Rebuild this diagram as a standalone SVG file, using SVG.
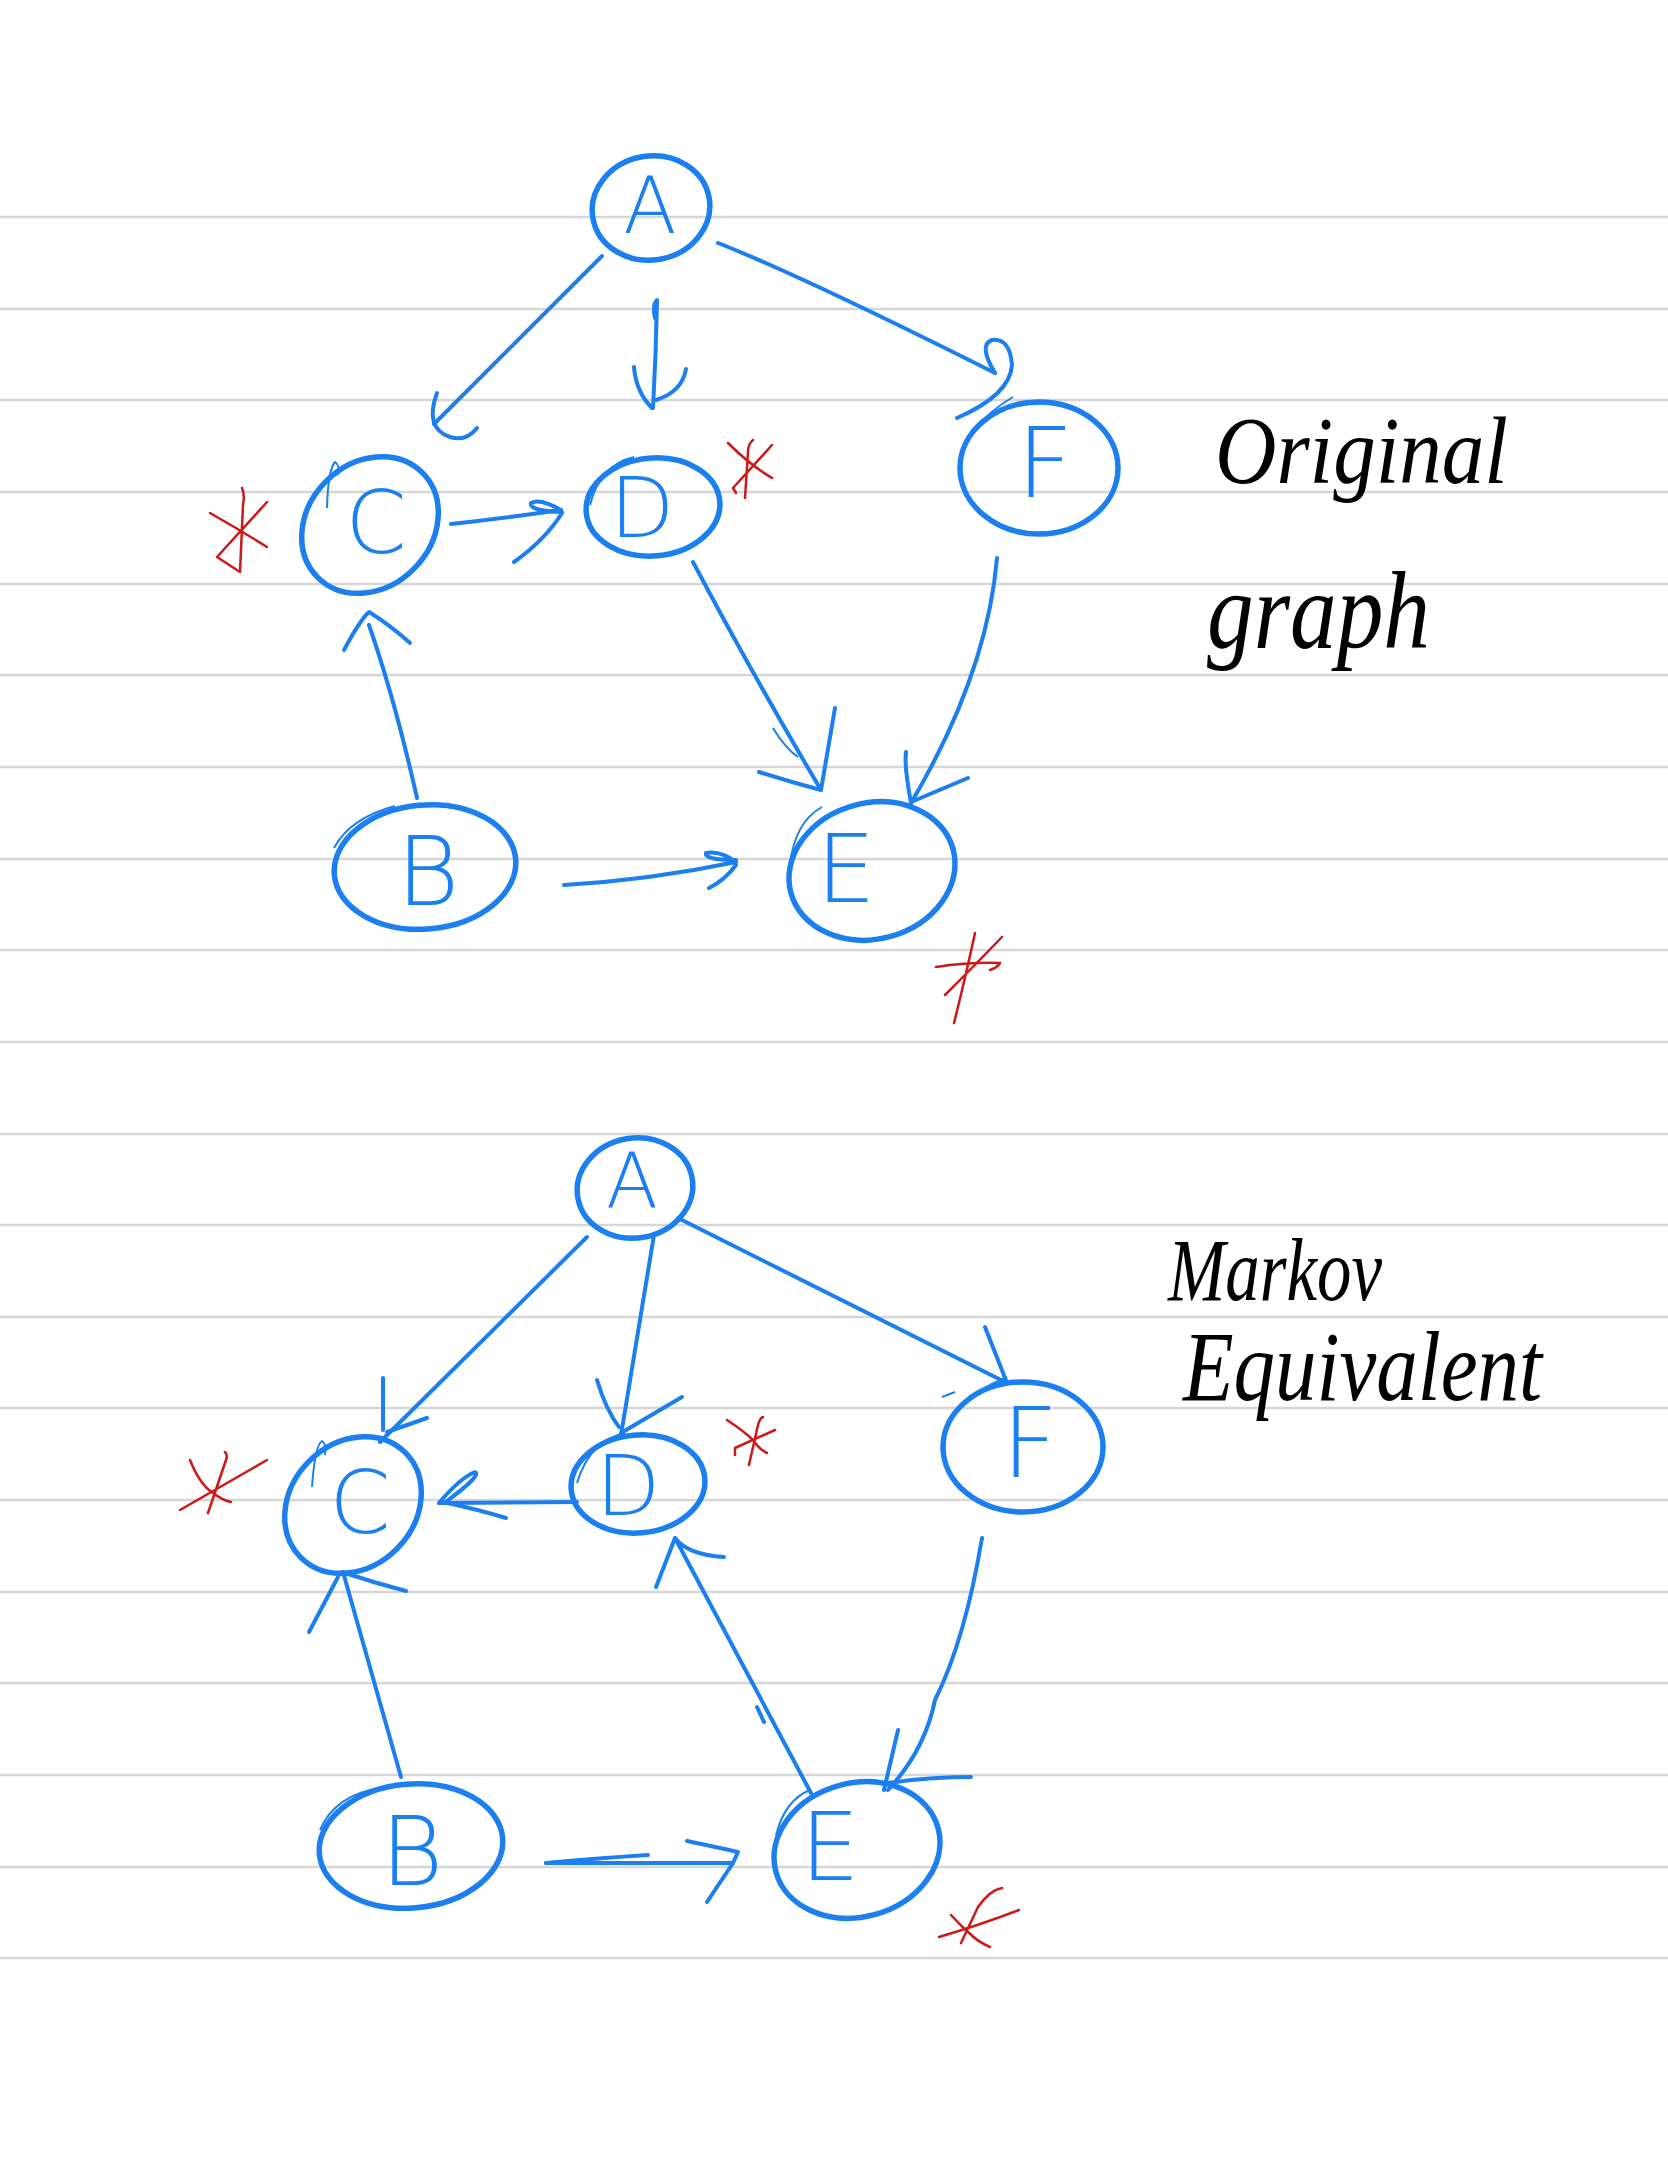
<svg xmlns="http://www.w3.org/2000/svg" width="1668" height="2157" viewBox="0 0 1668 2157">
<style>
.rule{stroke:#d6d6d6;stroke-width:2.5}
.node{fill:none;stroke:#1b7ff0;stroke-width:5.5}
.thin{fill:none;stroke:#1b7ff0;stroke-width:2}
.edge{fill:none;stroke:#1b7ff0;stroke-width:4;stroke-linecap:round;stroke-linejoin:round}
.lbl{font-family:"DejaVu Sans","Liberation Sans",Arial,sans-serif;font-weight:200;fill:#1b7ff0;text-anchor:middle}
.mark{fill:none;stroke:#cc1818;stroke-width:2.5;stroke-linecap:round;stroke-linejoin:round}
.note{font-family:"Liberation Serif","Times New Roman",serif;font-style:italic;fill:#000}
</style>
<rect width="1668" height="2157" fill="#ffffff"/>
<g id="ruled-lines">
<line class="rule" x1="0" y1="217" x2="1668" y2="217"/>
<line class="rule" x1="0" y1="309" x2="1668" y2="309"/>
<line class="rule" x1="0" y1="400" x2="1668" y2="400"/>
<line class="rule" x1="0" y1="492" x2="1668" y2="492"/>
<line class="rule" x1="0" y1="584" x2="1668" y2="584"/>
<line class="rule" x1="0" y1="675" x2="1668" y2="675"/>
<line class="rule" x1="0" y1="767" x2="1668" y2="767"/>
<line class="rule" x1="0" y1="859" x2="1668" y2="859"/>
<line class="rule" x1="0" y1="950" x2="1668" y2="950"/>
<line class="rule" x1="0" y1="1042" x2="1668" y2="1042"/>
<line class="rule" x1="0" y1="1134" x2="1668" y2="1134"/>
<line class="rule" x1="0" y1="1225" x2="1668" y2="1225"/>
<line class="rule" x1="0" y1="1317" x2="1668" y2="1317"/>
<line class="rule" x1="0" y1="1408" x2="1668" y2="1408"/>
<line class="rule" x1="0" y1="1500" x2="1668" y2="1500"/>
<line class="rule" x1="0" y1="1592" x2="1668" y2="1592"/>
<line class="rule" x1="0" y1="1683" x2="1668" y2="1683"/>
<line class="rule" x1="0" y1="1775" x2="1668" y2="1775"/>
<line class="rule" x1="0" y1="1867" x2="1668" y2="1867"/>
<line class="rule" x1="0" y1="1958" x2="1668" y2="1958"/>
</g>

<!-- Top graph: Original graph -->
<g id="top-connectors">
<path class="edge" d="M602,256 Q520,338 434,424"/>
<path class="edge" d="M437,393 Q424,428 450,437 Q466,442 477,428"/>
<path class="edge" d="M655,318 Q652,305 657,300 Q656,355 653,408"/>
<path class="edge" d="M634,367 Q636,392 652,408 M686,369 Q682,392 656,400"/>
<path class="edge" d="M451,524 Q505,518 561,510"/>
<path class="edge" d="M561,510 Q540,498 531,503 Q529,511 562,512 M562,513 Q545,540 514,562"/>
<path class="edge" d="M718,243 Q800,275 995,373"/>
<path class="edge" d="M995,373 Q978,345 992,340 Q1010,338 1012,365 Q1010,395 957,418"/>
<path class="thin" d="M970,434 Q990,410 1013,397"/>
<path class="edge" d="M693,562 Q750,670 821,790"/>
<path class="edge" d="M835,708 L821,790 M759,772 Q790,782 821,790"/>
<path class="thin" d="M773,728 Q785,748 798,757"/>
<path class="edge" d="M997,558 C990,640 960,720 911,803"/>
<path class="edge" d="M968,778 L911,802 M906,752 Q904,765 911,803"/>
<path class="edge" d="M417,798 Q395,700 369,625"/>
<path class="edge" d="M344,650 Q360,620 369,612 Q390,625 410,643"/>
<path class="edge" d="M564,885 Q650,880 736,862"/>
<path class="edge" d="M736,862 Q720,850 706,853 Q704,860 736,860 M736,865 Q725,880 709,888"/>
</g>
<g id="top-A">
<ellipse class="node" cx="651" cy="208" rx="59" ry="52" transform="rotate(-10 651 208)"/>
<text class="lbl" x="650" y="233" font-size="78">A</text>
</g>
<g id="top-C">
<ellipse class="node" cx="370" cy="525" rx="74" ry="62" transform="rotate(-45 370 525)"/>
<path class="thin" d="M327,508 Q328,470 335,462 Q340,465 338,475"/>
<text class="lbl" x="376" y="553" font-size="88">C</text>
</g>
<g id="top-D">
<ellipse class="node" cx="653" cy="507" rx="67" ry="49" transform="rotate(-5 653 507)"/>
<path class="thin" d="M590,505 Q600,465 634,457"/>
<text class="lbl" x="642" y="537" font-size="84">D</text>
</g>
<g id="top-F">
<ellipse class="node" cx="1039" cy="468" rx="79" ry="66"/>
<text class="lbl" x="1045" y="497" font-size="98">F</text>
</g>
<g id="top-B">
<ellipse class="node" cx="425" cy="867" rx="91" ry="62" transform="rotate(-5 425 867)"/>
<path class="thin" d="M334,848 Q350,818 395,806"/>
<text class="lbl" x="428" y="905" font-size="96">B</text>
</g>
<g id="top-E">
<ellipse class="node" cx="872" cy="871" rx="84" ry="68" transform="rotate(-15 872 871)"/>
<path class="thin" d="M790,864 Q795,822 822,807"/>
<text class="lbl" x="846" y="902" font-size="94">E</text>
</g>
<g id="top-marks">
<path class="mark" d="M210,513 Q240,530 267,547 M267,502 L217,557 L240,572 M242,488 Q245,495 243,505 L240,572"/>
<path class="mark" d="M728,443 Q750,465 772,478 M772,445 L733,488 L736,493 M753,440 Q748,444 748,452 L745,498"/>
<path class="mark" d="M936,967 Q970,962 1000,963 Q997,968 990,970 M1002,937 Q975,965 945,995 M975,933 Q966,975 954,1023"/>
</g>
<g id="label-original">
<text class="note" x="1215" y="483" font-size="95" textLength="293" lengthAdjust="spacingAndGlyphs">Original</text>
<text class="note" x="1207" y="648" font-size="110" textLength="223" lengthAdjust="spacingAndGlyphs">graph</text>
</g>

<!-- Bottom graph: Markov Equivalent -->
<g id="bottom-connectors">
<path class="edge" d="M587,1237 L380,1442"/>
<path class="edge" d="M383,1378 L383,1430 M427,1418 L387,1432"/>
<path class="edge" d="M654,1235 L621,1435"/>
<path class="edge" d="M597,1380 Q606,1410 619,1427 M682,1397 L621,1433"/>
<path class="edge" d="M577,1502 L439,1503"/>
<path class="edge" d="M439,1503 Q460,1478 475,1472 Q482,1475 447,1501 M443,1502 Q480,1510 506,1518"/>
<path class="edge" d="M678,1218 L1007,1383"/>
<path class="edge" d="M985,1327 L1007,1383"/>
<path class="thin" d="M953,1413 Q975,1390 1007,1377 M942,1397 L955,1392"/>
<path class="edge" d="M982,1538 Q965,1640 935,1700 Q925,1750 888,1790"/>
<path class="edge" d="M898,1730 L884,1790 M888,1783 Q930,1777 971,1777"/>
<path class="edge" d="M811,1793 L675,1538"/>
<path class="edge" d="M656,1587 L675,1538 Q688,1555 724,1557"/>
<path class="edge" d="M757,1707 L764,1722"/>
<path class="edge" d="M401,1777 L343,1572"/>
<path class="edge" d="M309,1632 L338,1577 M345,1573 Q375,1583 406,1591"/>
<path class="edge" d="M546,1863 L733,1863"/>
<path class="edge" d="M546,1863 Q600,1858 648,1855"/>
<path class="edge" d="M687,1841 Q720,1848 738,1852 L733,1863 M733,1863 L707,1902"/>
</g>
<g id="bottom-A">
<ellipse class="node" cx="635" cy="1188" rx="58" ry="50" transform="rotate(-10 635 1188)"/>
<text class="lbl" x="632" y="1208" font-size="76">A</text>
</g>
<g id="bottom-C">
<ellipse class="node" cx="353" cy="1505" rx="74" ry="62" transform="rotate(-45 353 1505)"/>
<path class="thin" d="M312,1487 Q315,1445 322,1441 Q327,1445 325,1455"/>
<text class="lbl" x="360" y="1533" font-size="88">C</text>
</g>
<g id="bottom-D">
<ellipse class="node" cx="638" cy="1484" rx="67" ry="49" transform="rotate(-5 638 1484)"/>
<path class="thin" d="M577,1483 Q590,1440 625,1433"/>
<text class="lbl" x="628" y="1515" font-size="84">D</text>
</g>
<g id="bottom-F">
<ellipse class="node" cx="1023" cy="1447" rx="80" ry="65"/>
<text class="lbl" x="1030" y="1477" font-size="98">F</text>
</g>
<g id="bottom-B">
<ellipse class="node" cx="411" cy="1846" rx="92" ry="62" transform="rotate(-5 411 1846)"/>
<path class="thin" d="M320,1830 Q335,1795 380,1788"/>
<text class="lbl" x="412" y="1885" font-size="96">B</text>
</g>
<g id="bottom-E">
<ellipse class="node" cx="857" cy="1850" rx="84" ry="67" transform="rotate(-15 857 1850)"/>
<path class="thin" d="M776,1835 Q785,1800 810,1790"/>
<text class="lbl" x="830" y="1880" font-size="94">E</text>
</g>
<g id="bottom-marks">
<path class="mark" d="M267,1460 L180,1510 M190,1460 Q200,1485 213,1493 Q222,1500 231,1502 M225,1452 Q228,1455 226,1460 L208,1513"/>
<path class="mark" d="M727,1420 Q745,1432 753,1440 Q760,1450 767,1453 M775,1430 L735,1448 L735,1455 M763,1417 Q760,1418 758,1425 L749,1465"/>
<path class="mark" d="M1019,1910 Q980,1925 939,1937 M951,1915 Q960,1925 968,1932 Q978,1942 990,1947 M1002,1888 Q990,1890 978,1907 L961,1943"/>
</g>
<g id="label-markov">
<text class="note" x="1168" y="1300" font-size="88" textLength="214" lengthAdjust="spacingAndGlyphs">Markov</text>
<text class="note" x="1183" y="1400" font-size="100" textLength="359" lengthAdjust="spacingAndGlyphs">Equivalent</text>
</g>
</svg>
